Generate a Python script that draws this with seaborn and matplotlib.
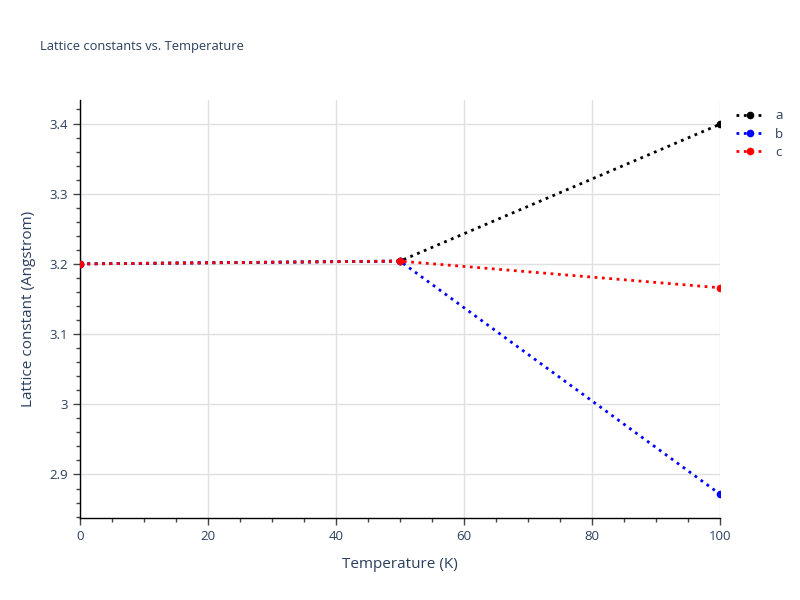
import pandas as pd
import matplotlib
matplotlib.use("Agg")
import matplotlib.pyplot as plt
import seaborn as sns
from matplotlib.ticker import MultipleLocator

# data
temperature = [0, 50, 100]
lattice_a = [3.200, 3.204, 3.399]
lattice_b = [3.200, 3.204, 2.872]
lattice_c = [3.200, 3.204, 3.166]
series_names = ["a", "b", "c"]
series_colors = ["black", "blue", "red"]

df = pd.DataFrame({
    "Temperature": temperature * 3,
    "Lattice": lattice_a + lattice_b + lattice_c,
    "param": [n for n in series_names for _ in temperature],
})

sns.set_style("white")
plt.rcParams["font.family"] = ["Open Sans", "DejaVu Sans"]
text_color = "#2a3f5f"

fig = plt.figure(figsize=(8, 6), dpi=100)
ax = fig.add_axes([0.1, 0.1367, 0.8, 0.6966])

for name, color in zip(series_names, series_colors):
    sub = df[df["param"] == name]
    sns.lineplot(data=sub, x="Temperature", y="Lattice", ax=ax, color=color,
                 linestyle=":", linewidth=2, marker="o", markersize=5.5,
                 markeredgewidth=0, label=name, zorder=3)

ax.set_xlim(0, 100)
ax.set_ylim(2.838, 3.4335)
ax.xaxis.set_major_locator(MultipleLocator(20))
ax.xaxis.set_minor_locator(MultipleLocator(5))
ax.yaxis.set_minor_locator(MultipleLocator(0.02))
ax.set_yticks([2.9, 3.0, 3.1, 3.2, 3.3, 3.4])
ax.set_yticklabels(["2.9", "3", "3.1", "3.2", "3.3", "3.4"])

ax.grid(True, which="major", color="#e0e0e0", linewidth=1)
ax.set_axisbelow(True)
for side in ["top", "right"]:
    ax.spines[side].set_visible(False)
for side in ["left", "bottom"]:
    ax.spines[side].set_color("black")
    ax.spines[side].set_linewidth(1)

ax.tick_params(which="major", direction="out", length=5, width=1, color="#444444",
               labelsize=9.5, labelcolor=text_color, left=True, bottom=True)
ax.tick_params(which="minor", direction="out", length=3, width=1, color="#444444",
               left=True, bottom=True)

ax.set_xlabel("Temperature (K)", fontsize=11, color=text_color, labelpad=10)
ax.set_ylabel("Lattice constant (Angstrom)", fontsize=11, color=text_color, labelpad=10)

fig.text(0.05, 0.923, "Lattice constants vs. Temperature", fontsize=9.3,
         color=text_color, va="center")

leg = ax.legend(loc="upper left", bbox_to_anchor=(1.01, 1.0), frameon=False,
                fontsize=9.5, handlelength=2.2, labelspacing=0.4, borderaxespad=0.3)
for t in leg.get_texts():
    t.set_color(text_color)

fig.savefig("out.png", dpi=100)
